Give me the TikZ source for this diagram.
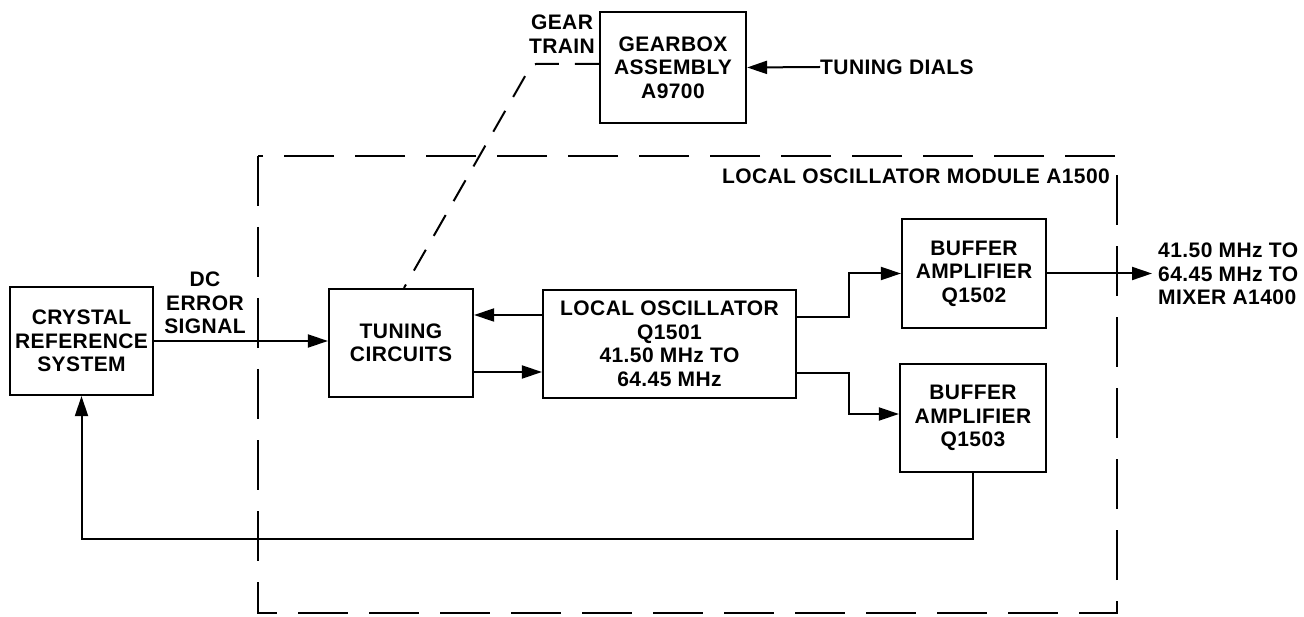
\documentclass[tikz,border=0pt]{standalone}
\usepackage{fontspec}
\setmainfont{Liberation Sans}[LetterSpace=2]
\usetikzlibrary{arrows.meta}
\begin{document}
\begin{tikzpicture}[x=1pt,y=-1pt,
  every node/.style={font=\fontsize{21}{23.5}\selectfont\bfseries, align=center, inner sep=0pt},
  blk/.style={draw, line width=2.2pt, rectangle},
  wire/.style={line width=2pt},
  arr/.style={wire, -{Triangle[length=20pt,width=13pt]}},
  gear/.style={line width=2pt, dash pattern=on 24pt off 16pt},
  module/.style={line width=2pt, dash pattern=on 50pt off 21pt}]
\useasboundingbox (0,0) rectangle (1304,617);
% module frame
\draw[module] (258,156) rectangle (1117,613);
\node[anchor=east] (modlabel) at (1110,176) {LOCAL OSCILLATOR MODULE A1500};
% blocks
\node[blk, minimum width=143pt, minimum height=108pt] (crystal) at (81.5,341) {CRYSTAL\\REFERENCE\\SYSTEM};
\node[blk, minimum width=144pt, minimum height=108pt] (tuning) at (401,343) {TUNING\\CIRCUITS};
\node[blk, minimum width=253pt, minimum height=108pt] (lo) at (669.5,344) {LOCAL OSCILLATOR\\Q1501\\41.50 MHz TO\\64.45 MHz};
\node[blk, minimum width=144pt, minimum height=109pt] (buf1) at (974,273.5) {BUFFER\\AMPLIFIER\\Q1502};
\node[blk, minimum width=146pt, minimum height=108pt] (buf2) at (973,418) {BUFFER\\AMPLIFIER\\Q1503};
\node[blk, minimum width=146pt, minimum height=111pt] (gearbox) at (673,67.5) {GEARBOX\\ASSEMBLY\\A9700};
% labels
\node (dclabel) at (205,303) {DC\\ERROR\\SIGNAL};
\node (gtlabel) at (562,34) {GEAR\\TRAIN};
\node[anchor=west] (dials) at (820,67) {TUNING DIALS};
\node[anchor=west, align=left] (outlabel) at (1158,274) {41.50 MHz TO\\64.45 MHz TO\\MIXER A1400};
\coordinate (outend) at (1152,273.5);
\coordinate (gtcorner) at (532,64);
% connectors
\draw[arr] (crystal.east) -- (crystal.east -| tuning.west);
\draw[arr] (lo.west |- 0,315) -- (tuning.east |- 0,315);
\draw[arr] (tuning.east |- 0,372) -- (lo.west |- 0,372);
\draw[arr] (lo.east |- 0,317) -| (849,273.5) -- (buf1.west);
\draw[arr] (lo.east |- 0,373) -| (849,414) -- (buf2.west |- 0,414);
\draw[arr] (buf1.east) -- (outend);
\draw[arr] (buf2.south) -- (buf2.south |- 0,539) -- (crystal.south |- 0,539) -- (crystal.south);
\draw[arr] (dials.west) -- (gearbox.east);
\draw[gear, rounded corners=4pt] (gearbox.west |- 0,64) -- (gtcorner) -- ([xshift=3pt]tuning.north);
\end{tikzpicture}
\end{document}
